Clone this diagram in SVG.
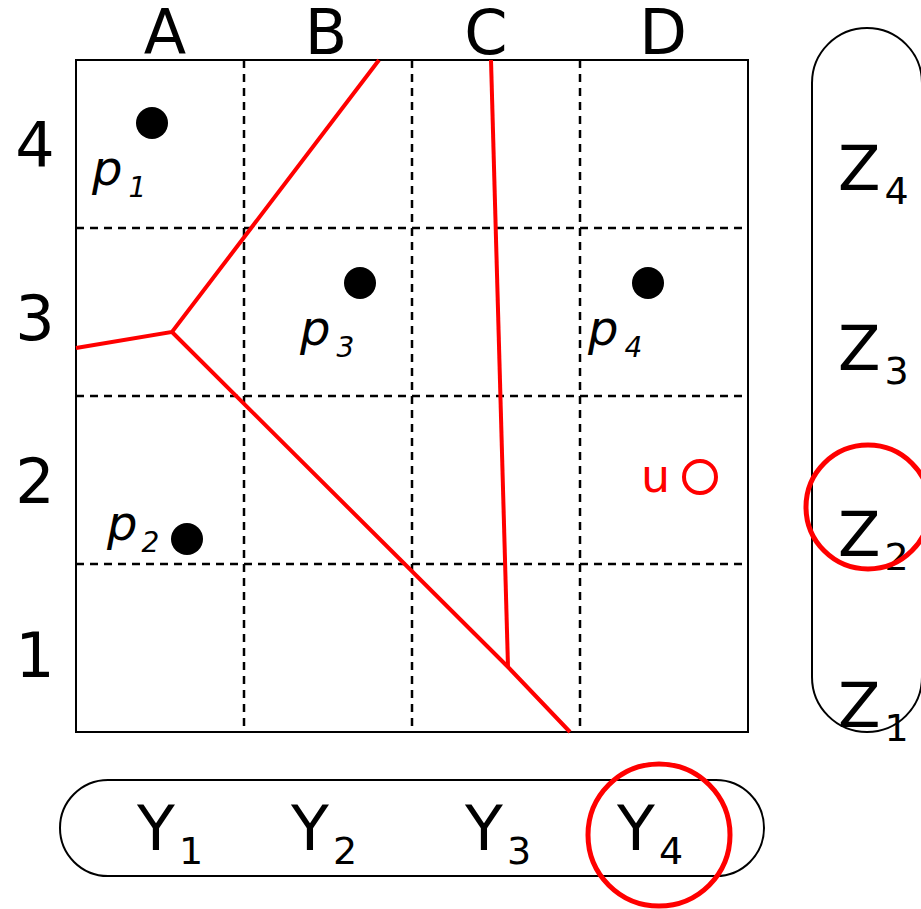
<svg xmlns="http://www.w3.org/2000/svg" width="921" height="909" viewBox="0 0 921 909">
<style>
.lbl{font-family:"DejaVu Sans",Verdana,sans-serif;font-size:62px;fill:#000}
.sub{font-size:38px}
.pl{font-family:"DejaVu Sans",Verdana,sans-serif;font-style:italic;font-size:48px;fill:#000}
.psub{font-size:28px}
.dash{stroke:#000;stroke-width:2.5;stroke-dasharray:8,6;fill:none}
.red{stroke:#ff0000;stroke-width:4;fill:none}
.dot{fill:#000}
</style>
<rect width="921" height="909" fill="#fff"/>
<g id="grid">
<line class="dash" x1="244" y1="60" x2="244" y2="732"/>
<line class="dash" x1="412" y1="60" x2="412" y2="732"/>
<line class="dash" x1="580" y1="60" x2="580" y2="732"/>
<line class="dash" x1="76" y1="228" x2="748" y2="228"/>
<line class="dash" x1="76" y1="396" x2="748" y2="396"/>
<line class="dash" x1="76" y1="564" x2="748" y2="564"/>
<rect x="76" y="60" width="672" height="672" fill="none" stroke="#000" stroke-width="2"/>
</g>
<g id="col-labels" class="lbl" text-anchor="middle">
<text x="165" y="54">A</text>
<text x="326" y="54">B</text>
<text x="486" y="54">C</text>
<text x="663" y="54">D</text>
</g>
<g id="row-labels" class="lbl" text-anchor="middle">
<text x="35" y="167">4</text>
<text x="35" y="340">3</text>
<text x="35" y="503">2</text>
<text x="35" y="677">1</text>
</g>
<g id="connectors">
<polyline class="red" points="76,348 172,332 379,60"/>
<polyline class="red" points="172,332 508,667 570,732"/>
<line class="red" x1="491" y1="60" x2="508" y2="667"/>
</g>
<g id="p1"><circle class="dot" cx="152" cy="123" r="16"/><text class="pl" x="92" y="185">p<tspan class="psub" dx="6" dy="12">1</tspan></text></g>
<g id="p3"><circle class="dot" cx="360" cy="283" r="16"/><text class="pl" x="300" y="345">p<tspan class="psub" dx="6" dy="12">3</tspan></text></g>
<g id="p4"><circle class="dot" cx="648" cy="283" r="16"/><text class="pl" x="588" y="345">p<tspan class="psub" dx="6" dy="12">4</tspan></text></g>
<g id="p2"><circle class="dot" cx="187" cy="539" r="16"/><text class="pl" x="107" y="540">p<tspan class="psub" dx="4" dy="12">2</tspan></text></g>
<g id="u"><text x="641" y="492" font-family="DejaVu Sans,Verdana,sans-serif" font-size="46" fill="#ff0000">u</text><circle cx="700" cy="477" r="16" fill="none" stroke="#ff0000" stroke-width="4"/></g>
<g id="Z">
<rect x="812" y="28" width="110" height="704" rx="55" ry="55" fill="none" stroke="#000" stroke-width="2"/>
<text class="lbl" x="838" y="190">Z<tspan class="sub" dx="4" dy="14">4</tspan></text>
<text class="lbl" x="838" y="370">Z<tspan class="sub" dx="4" dy="14">3</tspan></text>
<text class="lbl" x="838" y="556">Z<tspan class="sub" dx="4" dy="14">2</tspan></text>
<text class="lbl" x="838" y="727">Z<tspan class="sub" dx="4" dy="14">1</tspan></text>
<circle cx="868" cy="507" r="62" fill="none" stroke="#ff0000" stroke-width="5"/>
</g>
<g id="Y">
<rect x="60" y="780" width="704" height="96" rx="48" ry="48" fill="none" stroke="#000" stroke-width="2"/>
<text class="lbl" x="137" y="850">Y<tspan class="sub" dx="4" dy="14">1</tspan></text>
<text class="lbl" x="291" y="850">Y<tspan class="sub" dx="4" dy="14">2</tspan></text>
<text class="lbl" x="465" y="850">Y<tspan class="sub" dx="4" dy="14">3</tspan></text>
<text class="lbl" x="617" y="850">Y<tspan class="sub" dx="4" dy="14">4</tspan></text>
<circle cx="659" cy="835" r="71" fill="none" stroke="#ff0000" stroke-width="5"/>
</g>
</svg>
